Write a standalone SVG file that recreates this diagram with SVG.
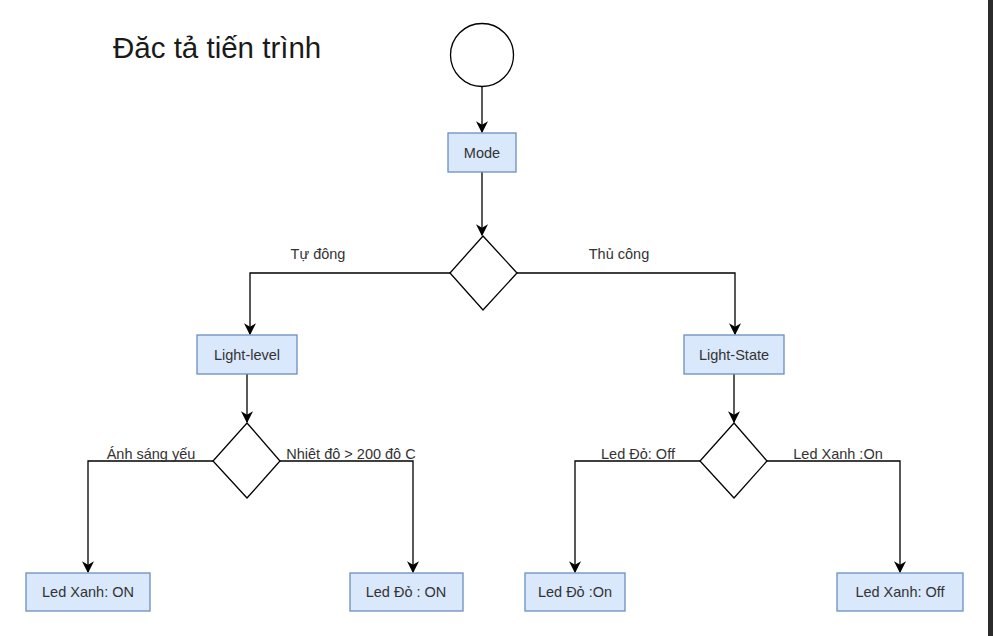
<svg xmlns="http://www.w3.org/2000/svg" width="993" height="636" viewBox="0 0 993 636">
<style>
.box{fill:#dae8fc;stroke:#6c8ebf;stroke-width:1.3}
.shape{fill:#ffffff;stroke:#000000;stroke-width:1.3}
.t{font-family:"Liberation Sans",Arial,sans-serif;font-size:14.5px;fill:#333333;text-anchor:middle;dominant-baseline:central}
.lbl{font-family:"Liberation Sans",Arial,sans-serif;font-size:14.5px;fill:#333333}
.edge{fill:none;stroke:#000000;stroke-width:1.3}
</style>
<defs>
<marker id="arr" viewBox="0 0 10 10" refX="9" refY="5" markerWidth="12" markerHeight="12" markerUnits="userSpaceOnUse" orient="auto">
<path d="M0,0 L10,5 L0,10 L3,5 Z" fill="#000000"/>
</marker>
</defs>
<rect width="993" height="636" fill="#ffffff"/>
<rect x="988" y="0" width="5" height="636" fill="#2b2b2b"/>
<text x="113" y="58" font-family="'Liberation Sans',Arial,sans-serif" font-size="29.5px" fill="#1a1a1a">Đăc tả tiến trình</text>

<g id="connectors">
<path class="edge" d="M482,86 L482,132" marker-end="url(#arr)"/>
<path class="edge" d="M482,172 L482,235" marker-end="url(#arr)"/>
<path class="edge" d="M450,273 L250,273 L250,334" marker-end="url(#arr)"/>
<path class="edge" d="M517,273 L735,273 L735,334" marker-end="url(#arr)"/>
<path class="edge" d="M247,374 L247,422" marker-end="url(#arr)"/>
<path class="edge" d="M734,374 L734,422" marker-end="url(#arr)"/>
<path class="edge" d="M213,461 L88,461 L88,572" marker-end="url(#arr)"/>
<path class="edge" d="M280,461 L413,461 L413,572" marker-end="url(#arr)"/>
<path class="edge" d="M700,461 L575,461 L575,572" marker-end="url(#arr)"/>
<path class="edge" d="M767,461 L900,461 L900,572" marker-end="url(#arr)"/>
<text class="lbl" x="318" y="259" text-anchor="middle">Tự đông</text>
<text class="lbl" x="619" y="259" text-anchor="middle">Thủ công</text>
<text class="lbl" x="151" y="459" text-anchor="middle">Ánh sáng yếu</text>
<text class="lbl" x="351" y="459" text-anchor="middle">Nhiêt đô &gt; 200 đô C</text>
<text class="lbl" x="638" y="459" text-anchor="middle">Led Đỏ: Off</text>
<text class="lbl" x="838" y="459" text-anchor="middle">Led Xanh :On</text>
</g>

<g id="start"><circle class="shape" cx="482" cy="55" r="31.5"/></g>
<g id="mode"><rect class="box" x="448" y="133" width="68" height="39"/><text class="t" x="482" y="153">Mode</text></g>
<g id="decision1"><path class="shape" d="M483,236 L517,273 L483,310 L450,273 Z"/></g>
<g id="light-level"><rect class="box" x="197" y="335" width="100" height="39"/><text class="t" x="247" y="355">Light-level</text></g>
<g id="light-state"><rect class="box" x="684" y="335" width="100" height="39"/><text class="t" x="734" y="355">Light-State</text></g>
<g id="decision2"><path class="shape" d="M247,423 L280,461 L247,498 L213,461 Z"/></g>
<g id="decision3"><path class="shape" d="M734,423 L767,461 L734,498 L700,461 Z"/></g>
<g id="led-xanh-on"><rect class="box" x="26" y="573" width="124" height="38"/><text class="t" x="88" y="592">Led Xanh: ON</text></g>
<g id="led-do-on"><rect class="box" x="350" y="573" width="113" height="38"/><text class="t" x="406" y="592">Led Đỏ : ON</text></g>
<g id="led-do-on2"><rect class="box" x="525" y="573" width="100" height="38"/><text class="t" x="575" y="592">Led Đỏ :On</text></g>
<g id="led-xanh-off"><rect class="box" x="837" y="573" width="126" height="38"/><text class="t" x="900" y="592">Led Xanh: Off</text></g>
</svg>
